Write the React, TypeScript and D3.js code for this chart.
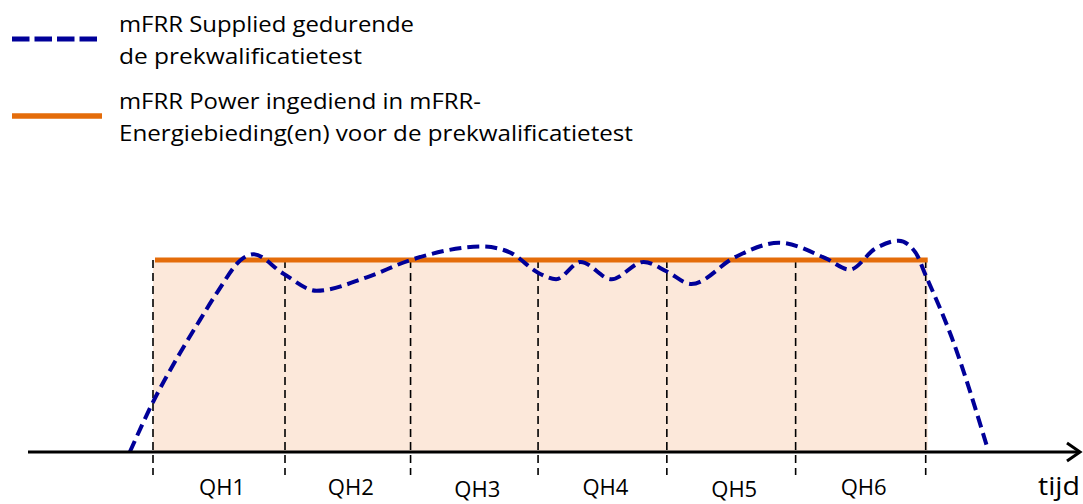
import * as d3 from "d3";

// legend texts
const legendSupplied = ["mFRR Supplied gedurende", "de prekwalificatietest"];
const legendSuppliedWidths = [295, 243];
const legendPower = ["mFRR Power ingediend in mFRR-", "Energiebieding(en) voor de prekwalificatietest"];
const legendPowerWidths = [362, 514];

// quarter hours on the time axis
const quarters = ["QH1", "QH2", "QH3", "QH4", "QH5", "QH6"];
const boundaries = [0, 1.025, 2.0, 2.99, 3.99, 4.99, 6];

// offered power level (in % of bid)
const offeredPower = 100;

// supplied power during the test, time in quarter hours, value in %
const suppliedTime = [
  -0.18, 0, 0.21, 0.365, 0.5, 0.7, 0.78, 1.01, 1.27, 1.66, 2.0, 2.56, 2.77, 3.0, 3.13,
  3.32, 3.56, 3.81, 3.99, 4.18, 4.52, 4.86, 5.22, 5.41, 5.61, 5.79, 5.92, 6.0, 6.2, 6.48,
];
const suppliedValue = [
  0, 26, 51.6, 68.8, 83.3, 101, 103, 93, 84, 91, 100, 107, 104, 93, 90,
  99, 90, 99, 94, 87.5, 101.5, 109, 101, 95, 106, 110, 104, 92, 60, 2,
];

const WIDTH = 1083;
const HEIGHT = 504;
const FONT = "'Open Sans', 'Noto Sans', sans-serif";

export default function App() {
  const x = d3.scaleLinear().domain([0, 6]).range([153, 925.7]);
  const y = d3.scaleLinear().domain([0, 100]).range([452, 260]);

  const supplied = suppliedTime.map((t, i) => [t, suppliedValue[i]] as [number, number]);

  const line = d3
    .line<[number, number]>()
    .x((d) => x(d[0]))
    .y((d) => y(d[1]))
    .curve(d3.curveMonotoneX);

  const axisY = y(0);

  return (
    <svg
      width={WIDTH}
      height={HEIGHT}
      style={{ position: "absolute", left: 0, top: 0, background: "#fff" }}
      fontFamily={FONT}
    >
      {/* legend */}
      <g>
        <line x1={12} x2={97} y1={39} y2={39} stroke="#000099" strokeWidth={5} strokeDasharray="17.5,5" />
        {legendSupplied.map((t, i) => (
          <text
            key={t}
            x={119}
            y={32 + i * 31.5}
            fontSize={22}
            fill="#000"
            textLength={legendSuppliedWidths[i]}
            lengthAdjust="spacingAndGlyphs"
          >
            {t}
          </text>
        ))}
        <line x1={12} x2={102} y1={116} y2={116} stroke="#E46C0A" strokeWidth={5.5} />
        {legendPower.map((t, i) => (
          <text
            key={t}
            x={119}
            y={109 + i * 31.5}
            fontSize={22}
            fill="#000"
            textLength={legendPowerWidths[i]}
            lengthAdjust="spacingAndGlyphs"
          >
            {t}
          </text>
        ))}
      </g>

      {/* offered area */}
      <rect
        x={x(0)}
        y={y(offeredPower)}
        width={x(6) - x(0) + 2}
        height={axisY - y(offeredPower)}
        fill="#FCE8DA"
      />

      {/* quarter hour boundaries */}
      {boundaries.map((b) => (
        <line
          key={b}
          x1={x(b)}
          x2={x(b)}
          y1={y(offeredPower)}
          y2={475}
          stroke="#000"
          strokeWidth={1.6}
          strokeDasharray="8,5"
        />
      ))}

      {/* offered power line */}
      <line
        x1={x(0) + 2}
        x2={x(6) + 2}
        y1={y(offeredPower)}
        y2={y(offeredPower)}
        stroke="#E46C0A"
        strokeWidth={5}
      />

      {/* supplied curve */}
      <path
        d={line(supplied) ?? ""}
        fill="none"
        stroke="#000099"
        strokeWidth={4}
        strokeDasharray="12,6"
      />

      {/* time axis */}
      <line x1={28} x2={1080} y1={axisY} y2={axisY} stroke="#000" strokeWidth={3} />
      <path
        d={`M1067,${axisY - 9} L1080,${axisY} L1067,${axisY + 9}`}
        fill="none"
        stroke="#000"
        strokeWidth={3}
      />

      {quarters.map((q, i) => (
        <text
          key={q}
          x={(x(boundaries[i]) + x(boundaries[i + 1])) / 2 + 3}
          y={495 + (i % 2 === 0 && i > 0 ? 2 : 0)}
          fontSize={22}
          textAnchor="middle"
          fill="#000"
          textLength={46}
          lengthAdjust="spacingAndGlyphs"
        >
          {q}
        </text>
      ))}
      <text
        x={1038}
        y={495}
        fontSize={26}
        fill="#000"
        textLength={42}
        lengthAdjust="spacingAndGlyphs"
      >
        tijd
      </text>
    </svg>
  );
}
